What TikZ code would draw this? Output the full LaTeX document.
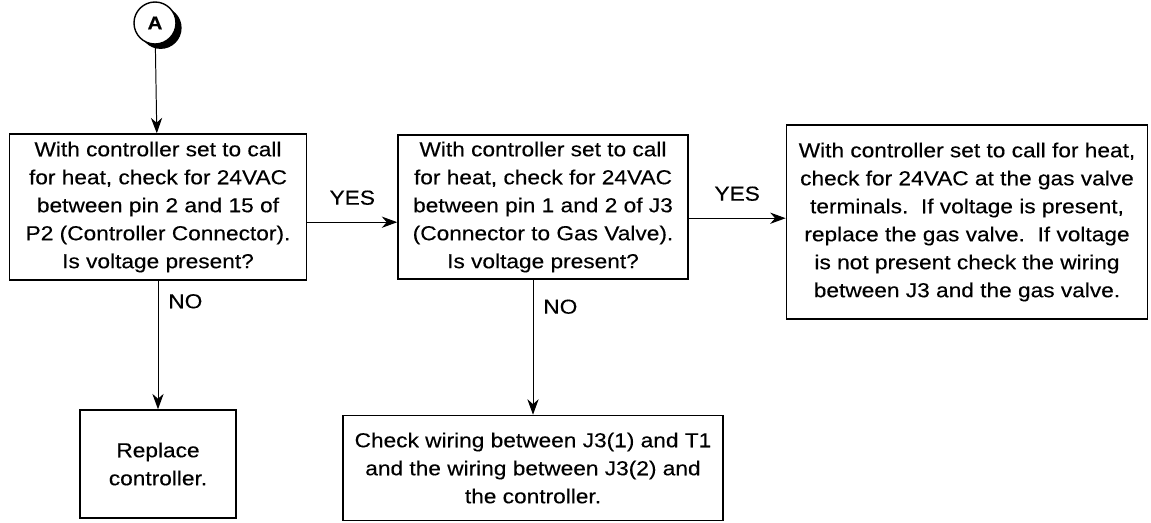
\documentclass[tikz,border=0pt]{standalone}
\usepackage{fontspec}
\setmainfont{Liberation Sans}[FakeStretch=1.12,FakeBold=0.3]
\usetikzlibrary{arrows.meta,shadows}

\begin{document}
\begin{tikzpicture}[x=0.025cm,y=-0.025cm,
    font=\fontsize{14.4}{19.9}\selectfont,
    stepbox/.style={draw, line width=1pt, align=center, inner sep=0pt},
    flow/.style={line width=0.7pt, -{Stealth[length=11pt,width=8pt,inset=3.5pt]}},
    answer/.style={inner sep=1pt}]
      \useasboundingbox (0,0) rectangle (1151,522);
      % entry point
      \node[circle, draw, line width=1pt, fill=white, minimum size=1.05cm, inner sep=0pt,
            drop shadow={shadow xshift=4pt, shadow yshift=-3.5pt, opacity=1, fill=black},
            font=\fontsize{13}{13}\selectfont\bfseries] (A) at (155,23) {A};
      % boxes
      \node[stepbox, minimum width=7.43cm, minimum height=3.65cm] (ctrl) at (158,207)
        {With controller set to call\\for heat, check for 24VAC\\between pin 2 and 15 of\\P2 (Controller Connector).\\Is voltage present?};
      \node[stepbox, minimum width=7.25cm, minimum height=3.6cm] (jthree) at (543,207)
        {With controller set to call\\for heat, check for 24VAC\\between pin 1 and 2 of J3\\(Connector to Gas Valve).\\Is voltage present?};
      \node[stepbox, minimum width=9.03cm, minimum height=4.85cm] (valve) at (967,222)
        {With controller set to call for heat,\\check for 24VAC at the gas valve\\terminals.\ \ If voltage is present,\\replace the gas valve.\ \ If voltage\\is not present check the wiring\\between J3 and the gas valve.};
      \node[stepbox, minimum width=3.9cm, minimum height=2.7cm] (replace) at (158,464)
        {Replace\\controller.};
      \node[stepbox, minimum width=9.5cm, minimum height=2.63cm] (wiring) at (533,468)
        {Check wiring between J3(1) and T1\\and the wiring between J3(2) and\\the controller.};
      % connectors
      \coordinate (yesone) at ([yshift=-0.38cm]ctrl.east);
      \coordinate (yestwo) at ([yshift=-0.28cm]jthree.east);
      \draw[flow] (A) -- (ctrl);
      \draw[flow] (yesone) -- (yesone -| jthree.west) node[answer, midway, above=11pt] {YES};
      \draw[flow] (yestwo) -- (yestwo -| valve.west) node[answer, midway, above=11pt] {YES};
      \draw[flow] (ctrl) -- (replace) node[answer, pos=0.16, right=6pt] {NO};
      \draw[flow] (jthree.south -| wiring.north) -- (wiring.north) node[answer, pos=0.2, right=6pt] {NO};
    \end{tikzpicture}
\end{document}
